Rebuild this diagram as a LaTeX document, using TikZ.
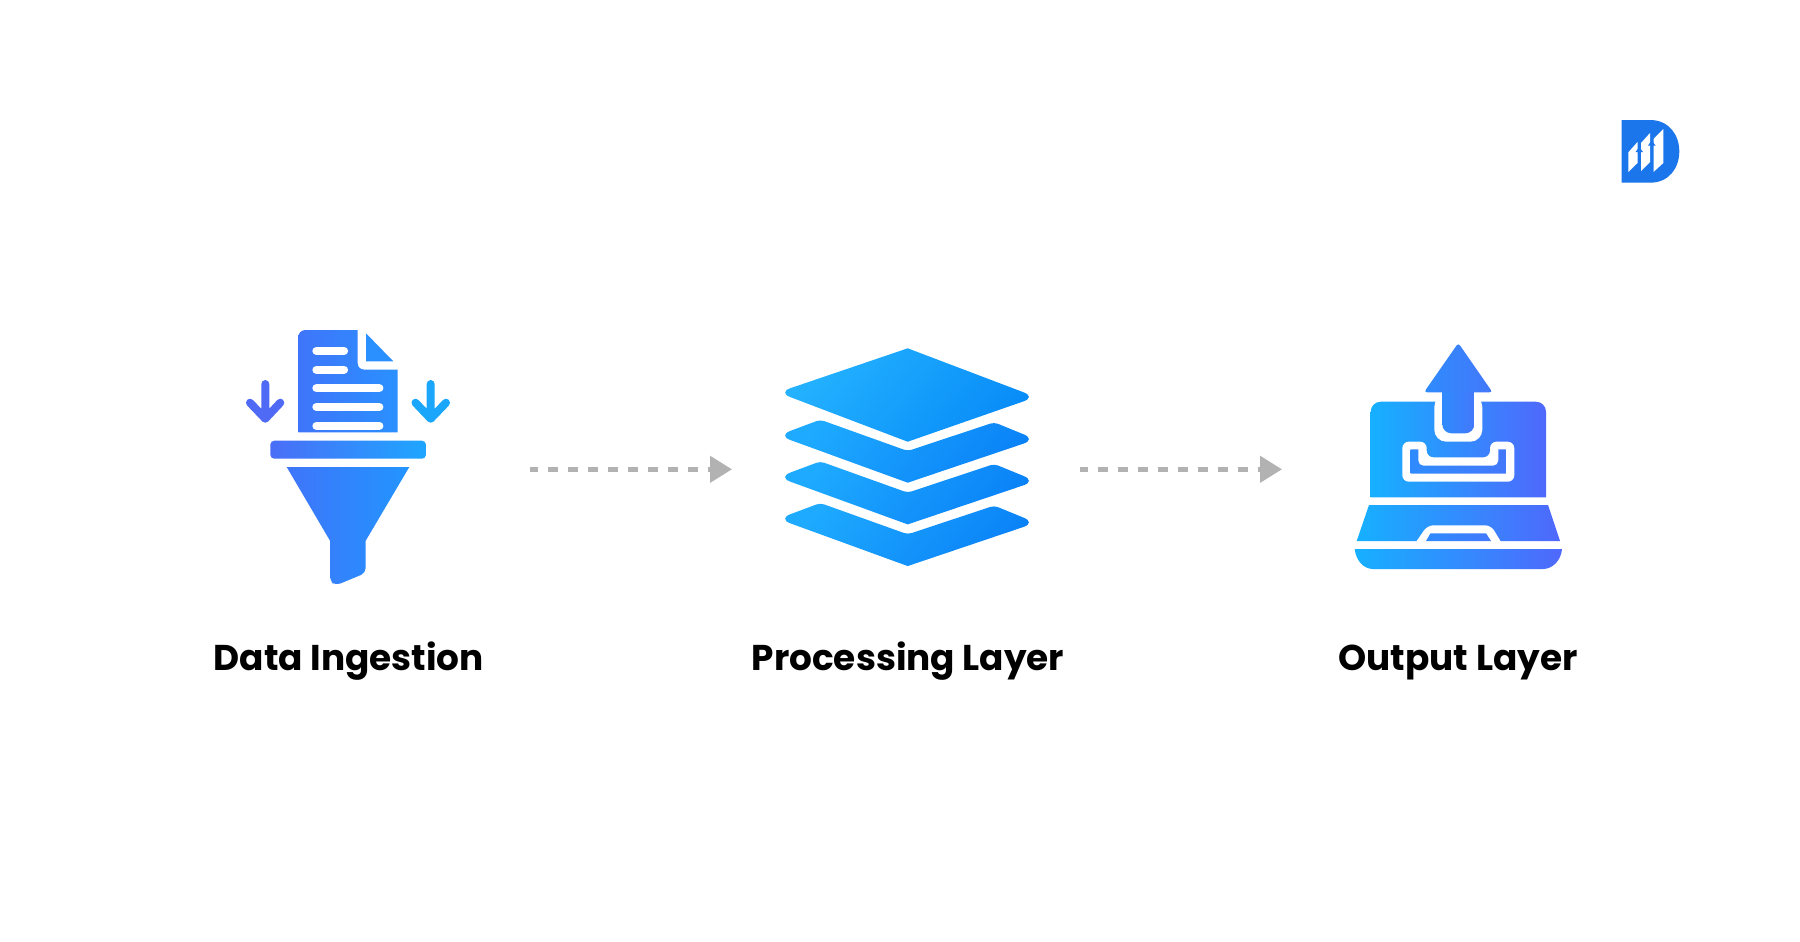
\documentclass[tikz,border=0pt]{standalone}
\usepackage{fontspec}
\setmainfont{Poppins}[BoldFont={Poppins Bold}]
\usepackage{tikz}
\usetikzlibrary{arrows.meta}
\definecolor{flowgray}{HTML}{B2B2B2}
\definecolor{logoblue}{HTML}{1B76EC}
\definecolor{funnelA}{HTML}{3F75FA}
\definecolor{funnelB}{HTML}{2A90FF}
\definecolor{funnelC}{HTML}{2295FF}
\definecolor{barA}{HTML}{4A6EF7}
\definecolor{barB}{HTML}{1EA6FF}
\definecolor{dropA}{HTML}{4F6BF5}
\definecolor{dropB}{HTML}{1AA7FB}
\definecolor{layerA}{HTML}{24B2FF}
\definecolor{layerB}{HTML}{088CF8}
\definecolor{layerC}{HTML}{1EAAFF}
\definecolor{layerD}{HTML}{0A82F7}
\definecolor{lapA}{HTML}{16B0FF}
\definecolor{lapB}{HTML}{4F68FC}
\definecolor{lapC}{HTML}{2F8BFD}
\definecolor{lapD}{HTML}{4378FB}
\tikzset{%
    flow/.style={draw=flowgray,line width=0.09cm,dash pattern=on 0.2cm off 0.2cm,dash phase=0.046cm,
      -{Triangle[length=0.44cm,width=0.52cm,fill=flowgray]}},%
    caption/.style={anchor=base,font=\fontsize{20.4}{24}\selectfont\bfseries,text=black},%
    dropline/.style={line width=0.16cm,line cap=round,line join=round},%
    docline/.style={white,line width=0.166cm,line cap=round},%
    funnelshade/.style={left color=funnelA,right color=funnelB},%
    lapshade/.style={left color=lapA,right color=lapB},%
    upshade/.style={left color=lapC,right color=lapD},%
    }
\begin{document}
\begin{tikzpicture}[x=0.02cm,y=-0.02cm]
    \useasboundingbox (0,0) rectangle (1800,941);
    \fill[white] (0,0) rectangle (1800,941);
    % funnel icon
    \shade[funnelshade] (298.3,432.3) [rounded corners=1.4mm] -- (298.3,330) [sharp corners] -- (357.7,330) [rounded corners=1.2mm] -- (357.7,369.5) [sharp corners] -- (397.7,369.5) -- (397.7,432.3) -- cycle;
    \fill[funnelB] (366,333.3) -- (393.3,361.3) -- (366,361.3) -- cycle;
    \foreach \ypos/\xend in {351/344,369.7/344,388.3/379.3,407/379.3,425.7/379.3}
      \draw[docline] (316.5,\ypos) -- (\xend,\ypos);
    \shade[left color=barA,right color=barB,rounded corners=0.8mm] (270.3,440.7) rectangle (426,458.7);
    \shade[left color=funnelA,right color=funnelC] (286.7,467) -- (409.3,467) -- (365.7,540.7) [rounded corners=1mm] -- (365.7,573) -- (335.5,585.5) -- (330,581) [sharp corners] -- (330,540.7) -- cycle;
    \draw[dropline,dropA] (265.3,384) -- (265.3,418.7) (250,402.7) -- (265.3,418.7) -- (280.3,402.7);
    \draw[dropline,dropB] (430.7,384) -- (430.7,418.7) (415.5,402.7) -- (430.7,418.7) -- (446,402.7);
    % stack icon
    \foreach \ypos in {0,41.67,83.33}
      \shade[top color=layerC,bottom color=layerD,shading angle=50,yshift=-\ypos*0.02cm]
        (907.7,482.7) [rounded corners=2.6mm] -- (778,435.5) [rounded corners=0.8mm] -- (820.3,419.7) -- (907.7,451) -- (994.3,422.3) [rounded corners=2.6mm] -- (1036,439.4) [sharp corners] -- cycle;
    \shade[top color=layerA,bottom color=layerB,shading angle=50]
        (907.7,348.3) [rounded corners=2.6mm] -- (1036,397) [sharp corners] -- (907.7,441.7) [rounded corners=2.6mm] -- (778,392.4) [sharp corners] -- cycle;
    % laptop icon
    \shade[lapshade] (1370.7,497.3) [rounded corners=2mm] -- (1370.7,401.7) -- (1546,401.7) [sharp corners] -- (1546,497.3) -- cycle;
    \fill[white,rounded corners=2.4mm] (1434.3,395) -- (1434.3,441.7) -- (1482.3,441.7) -- (1482.3,395) -- cycle;
    \shade[upshade] (1442.3,385) [rounded corners=1.8mm] -- (1442.3,433.3) -- (1474.3,433.3) [sharp corners] -- (1474.3,385) -- cycle;
    \shade[upshade,rounded corners=0.6mm] (1458.3,343) -- (1492.5,392.3) -- (1424,392.3) -- cycle;
    \fill[white,rounded corners=1.3mm] (1402.3,441.7) -- (1426.7,441.7) -- (1426.7,457.3) -- (1490,457.3) -- (1490,441.7) -- (1514.3,441.7) -- (1514.3,481.7) -- (1402.3,481.7) -- cycle;
    \shade[upshade] (1410.7,449.3) -- (1418.3,449.3) [rounded corners=1mm] -- (1418.3,465.7) -- (1498.3,465.7) [sharp corners] -- (1498.3,449.3) -- (1506,449.3) -- (1506,473.7) -- (1410.7,473.7) -- cycle;
    \shade[lapshade] (1369,505) -- (1548,505) -- (1560,541) -- (1356.7,541) -- cycle;
    \fill[white] (1416,542) [rounded corners=1.2mm] -- (1427.5,525.3) -- (1491,525.3) [sharp corners] -- (1501,542) -- cycle;
    \shade[upshade] (1426,541) -- (1430.5,533.3) -- (1486,533.3) -- (1491,541) -- cycle;
    \shade[lapshade] (1354.7,549) -- (1562,549) .. controls (1561,561) and (1552,569) .. (1543,569) -- (1373,569) .. controls (1364,569) and (1356,561) .. (1354.7,549) -- cycle;
    % logo
    \fill[logoblue] (1621.7,120) -- (1650,120) .. controls (1669,120) and (1679.3,135) .. (1679.3,151.3) .. controls (1679.3,168) and (1669,182.7) .. (1650,182.7) -- (1621.7,182.7) -- cycle;
    \fill[white] (1628.3,152.3) -- (1637.5,142) -- (1637.5,163) -- (1628.3,172) -- cycle
      (1641,143) -- (1650,133) -- (1650,162) -- (1641,171) -- cycle
      (1653.5,139) -- (1663.3,129) -- (1663.3,163) -- (1653.5,172) -- cycle;
    \fill[logoblue] (1639.2,147) -- (1643,152) -- (1635.5,152) -- cycle (1651.7,140.5) -- (1655.5,145.5) -- (1648,145.5) -- cycle;
    % labels
    \node[caption] (ingest) at (348.8,670) {Data Ingestion};
    \node[caption] (process) at (908,670) {Processing Layer};
    \node[caption] (output) at (1458,670) {Output Layer};
    % connectors
    \coordinate (ingestout) at (530,469.3);
    \coordinate (processin) at (732,469.3);
    \coordinate (processout) at (1080,469.3);
    \coordinate (outputin) at (1282,469.3);
    \draw[flow] (ingestout) -- (processin);
    \draw[flow] (processout) -- (outputin);
\end{tikzpicture}
\end{document}
